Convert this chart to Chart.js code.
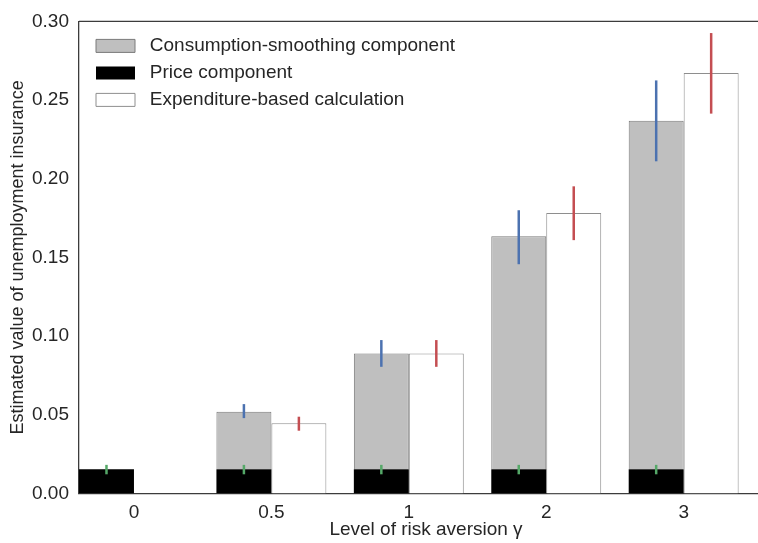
<!DOCTYPE html>
<html lang="en">
<head>
  <meta charset="UTF-8" />
  <title>Value of unemployment insurance by risk aversion</title>
  <script src="https://cdn.jsdelivr.net/npm/chart.js"></script>
  <style>
    body {
      margin: 0;
      background: #ffffff;
      overflow: hidden;
    }
    .wrap {
      width: 773px;
      height: 543px;
    }
  </style>
</head>
<body>
  <div class="wrap">
    <canvas id="chart"></canvas>
  </div>

  <script>
    // categories (level of risk aversion) sit at x = 0..4
    const gammaLabels = ['0', '0.5', '1', '2', '3'];
    const positions = [0, 1, 2, 3, 4];

    const priceComponent = [0.0154, 0.0154, 0.0154, 0.0154, 0.0154];
    const smoothingComponent = [null, 0.0365, 0.0735, 0.148, 0.2215];
    const expenditureBased = [null, 0.0446, 0.089, 0.1783, 0.2672];

    // error bar ranges
    const priceLow = [0.0122, 0.0122, 0.0122, 0.0122, 0.0122];
    const priceHigh = [0.0182, 0.0182, 0.0182, 0.0182, 0.0182];
    const smoothingLow = [null, 0.0479, 0.0805, 0.1457, 0.2111];
    const smoothingHigh = [null, 0.0568, 0.0975, 0.180, 0.2625];
    const expenditureLow = [null, 0.0399, 0.0805, 0.161, 0.2414];
    const expenditureHigh = [null, 0.0488, 0.0975, 0.1952, 0.2926];

    const yTicks = [0, 0.05, 0.10, 0.15, 0.20, 0.25, 0.30];

    const FONT = "'Liberation Sans', Arial, sans-serif";
    const INK = '#262626';
    const SPINE = '#3c3c3c';

    const toPoints = vals => vals.map((v, i) => ({ x: positions[i], y: v }));

    const errorSpecs = [
      { dataset: 0, low: priceLow, high: priceHigh, color: '#55a868' },
      { dataset: 1, low: smoothingLow, high: smoothingHigh, color: '#4c72b0' },
      { dataset: 2, low: expenditureLow, high: expenditureHigh, color: '#c44e52' }
    ];

    const errorBars = {
      id: 'errorBars',
      afterDatasetsDraw(chart) {
        const ctx = chart.ctx;
        const y = chart.scales.y;
        ctx.save();
        ctx.lineWidth = 2.5;
        errorSpecs.forEach(spec => {
          const meta = chart.getDatasetMeta(spec.dataset);
          meta.data.forEach((bar, i) => {
            if (spec.low[i] == null) return;
            ctx.strokeStyle = spec.color;
            ctx.beginPath();
            ctx.moveTo(bar.x, y.getPixelForValue(spec.low[i]));
            ctx.lineTo(bar.x, y.getPixelForValue(spec.high[i]));
            ctx.stroke();
          });
        });
        ctx.restore();
      }
    };

    // top spine (right side is cut off in the original picture)
    const topSpine = {
      id: 'topSpine',
      afterDraw(chart) {
        const { ctx, chartArea } = chart;
        ctx.save();
        ctx.strokeStyle = SPINE;
        ctx.lineWidth = 1.3;
        ctx.beginPath();
        ctx.moveTo(chartArea.left, chartArea.top);
        ctx.lineTo(chartArea.right, chartArea.top);
        ctx.stroke();
        ctx.restore();
      }
    };

    // vertical legends reset their top to 0, so place it inside the plot here
    const legendPlace = {
      id: 'legendPlace',
      afterLayout(chart) {
        const lg = chart.legend;
        if (!lg) return;
        const h = lg.height;
        lg.left = chart.chartArea.left + 9;
        lg.top = chart.chartArea.top + 7;
        lg.bottom = lg.top + h;
      }
    };

    const legendOrder = [1, 0, 2];

    new Chart(document.getElementById('chart'), {
      type: 'bar',
      data: {
        datasets: [
          {
            label: 'Price component',
            data: toPoints(priceComponent),
            stack: 'a',
            backgroundColor: '#000000',
            borderColor: '#000000',
            borderWidth: 0
          },
          {
            label: 'Consumption-smoothing component',
            data: toPoints(smoothingComponent),
            stack: 'a',
            backgroundColor: '#bfbfbf',
            borderColor: '#7a7a7a',
            borderWidth: 1
          },
          {
            label: 'Expenditure-based calculation',
            data: toPoints(expenditureBased),
            stack: 'b',
            backgroundColor: '#ffffff',
            borderColor: '#8e8e8e',
            borderWidth: 1
          }
        ]
      },
      options: {
        responsive: true,
        maintainAspectRatio: false,
        animation: false,
        datasets: {
          bar: { categoryPercentage: 0.8, barPercentage: 1.0 }
        },
        layout: { padding: { top: 21, right: 0, bottom: 0, left: 0 } },
        scales: {
          x: {
            type: 'linear',
            offset: false,
            stacked: true,
            min: -0.4,
            max: 4.65,
            grid: { display: false, drawTicks: false },
            border: { display: true, color: SPINE, width: 1.3 },
            afterBuildTicks(scale) {
              scale.ticks = positions.map(v => ({ value: v }));
            },
            afterFit(scale) {
              scale.height = 49.5;
            },
            ticks: {
              autoSkip: false,
              maxRotation: 0,
              padding: 8,
              color: INK,
              font: { family: FONT, size: 19 },
              callback: (value, index) => gammaLabels[index]
            },
            title: {
              display: true,
              text: 'Level of risk aversion γ',
              color: INK,
              font: { family: FONT, size: 19, lineHeight: 1.2 },
              padding: { top: 0, bottom: 2 }
            }
          },
          y: {
            stacked: true,
            min: 0,
            max: 0.30,
            grid: { display: false, drawTicks: false },
            border: { display: true, color: SPINE, width: 1.3 },
            afterBuildTicks(scale) {
              scale.ticks = yTicks.map(v => ({ value: v }));
            },
            afterFit(scale) {
              scale.width = 79;
            },
            ticks: {
              padding: 10,
              color: INK,
              font: { family: FONT, size: 19 },
              callback: value => value.toFixed(2)
            },
            title: {
              display: true,
              text: 'Estimated value of unemployment insurance',
              color: INK,
              font: { family: FONT, size: 18, lineHeight: 1.2 },
              padding: { top: 7, bottom: 0 }
            }
          }
        },
        plugins: {
          tooltip: { enabled: false },
          legend: {
            position: 'chartArea',
            align: 'start',
            labels: {
              boxWidth: 39,
              boxHeight: 13,
              padding: 8,
              color: INK,
              font: { family: FONT, size: 19 },
              sort: (a, b) => legendOrder.indexOf(a.datasetIndex) - legendOrder.indexOf(b.datasetIndex),
              generateLabels(chart) {
                const items = Chart.defaults.plugins.legend.labels.generateLabels(chart);
                items.forEach(item => { item.text = ' ' + item.text; });
                return items;
              }
            }
          }
        }
      },
      plugins: [errorBars, topSpine, legendPlace]
    });
  </script>
</body>
</html>
